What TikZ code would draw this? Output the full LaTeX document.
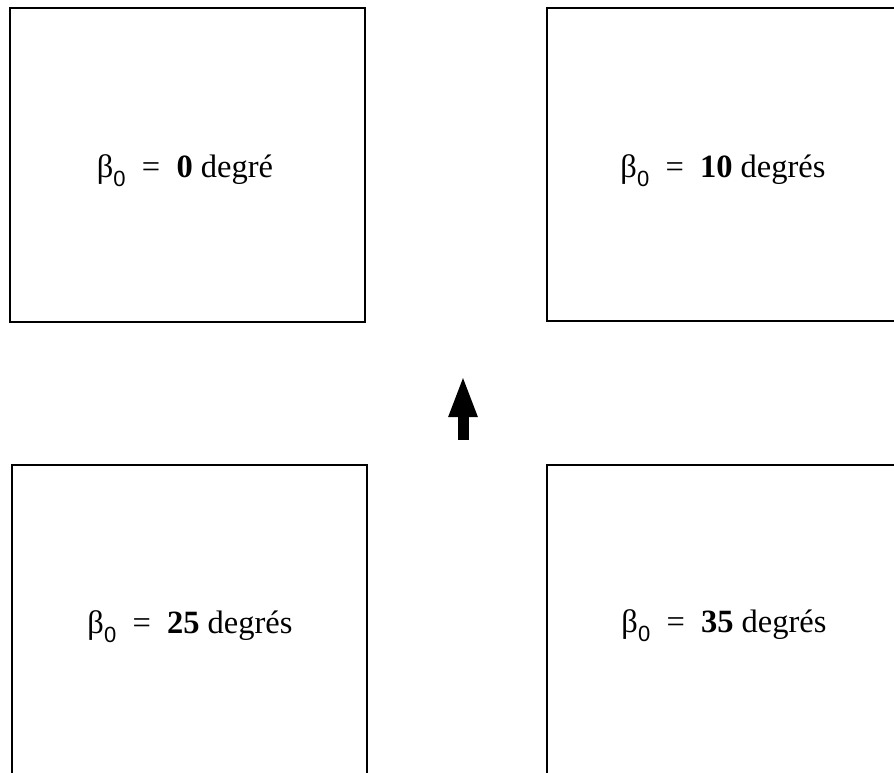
\documentclass[tikz,border=0pt]{standalone}
\usepackage{fontspec}
\setmainfont{Liberation Serif}
\setsansfont{Liberation Sans}
\usetikzlibrary{arrows.meta}
\tikzset{
  panel/.style={draw=black, line width=2pt},
  lbl/.style={font=\fontsize{32.5}{36}\selectfont, inner sep=0pt, anchor=base},
}
\newcommand{\betazero}{β\raisebox{-0.3em}{\sffamily\fontsize{22}{24}\selectfont 0}}
\begin{document}
\begin{tikzpicture}[x=1pt,y=-1pt]
\useasboundingbox (0,0) rectangle (894,772);
\draw[panel] (10,8) rectangle (365,322);
\draw[panel] (547,8) rectangle (905,321);
\draw[panel] (12,465) rectangle (367,790);
\draw[panel] (547,465) rectangle (905,790);
\node[lbl] (t1) at (185,177) {\betazero\ \ =\ \ \textbf{0} degré};
\node[lbl] (t2) at (723,177) {\betazero\ \ =\ \ \textbf{10} degrés};
\node[lbl] (t3) at (190,633) {\betazero\ \ =\ \ \textbf{25} degrés};
\node[lbl] (t4) at (724,632) {\betazero\ \ =\ \ \textbf{35} degrés};
\coordinate (abase) at (463,440);
\coordinate (atip) at (463,375);
\draw[line width=11pt, -{Triangle[width=26pt,length=42pt]}] (abase) -- (atip);
\end{tikzpicture}
\end{document}
